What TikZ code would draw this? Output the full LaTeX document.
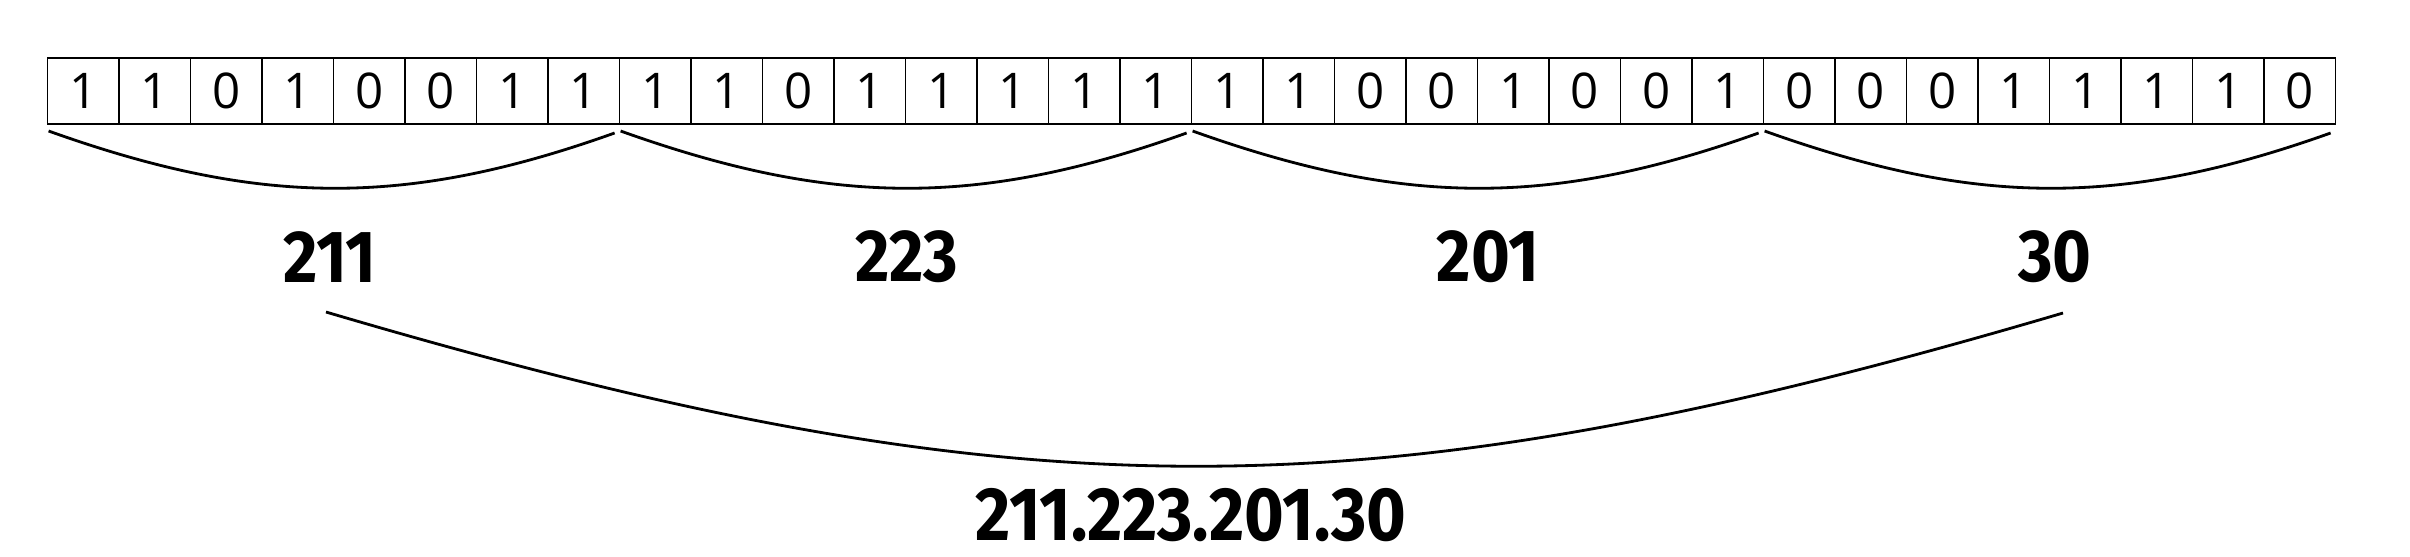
\documentclass[tikz,border=0pt]{standalone}
\usepackage{fontspec}
\setmainfont{Open Sans}
\newfontfamily\bytefont[Numbers=Proportional]{Fira Sans}

\tikzset{bit/.style={draw,line width=0.45pt,minimum width=7.15mm,minimum height=6.65mm,inner sep=0pt,font=\fontsize{14}{16}\selectfont},
byte label/.style={inner sep=0pt,font=\bytefont\bfseries\fontsize{21}{24}\selectfont},
ip label/.style={inner sep=0pt,font=\bytefont\bfseries\fontsize{21.5}{24}\selectfont},
brace/.style={line width=0.8pt},
big brace/.style={line width=0.8pt}}

\begin{document}
\begin{tikzpicture}[x=0.1mm,y=-0.1mm]
\useasboundingbox (0,0) rectangle (2410,556);

%% bit cells
\foreach \b [count=\i from 0] in {1,1,0,1,0,0,1,1,1,1,0,1,1,1,1,1,1,1,0,0,1,0,0,1,0,0,0,1,1,1,1,0}
  \node [bit] (c\i) at ({47.6+71.5*(\i+0.5)},91) {\b};

%% brace ends and byte values
\foreach \v/\x [count=\k from 0] in {211/330,223/907,201/1488,30/2055} {
  \coordinate (bs\k) at ({47.6+572*\k+1},131);
  \coordinate (be\k) at ({47.6+572*(\k+1)-5},133);
  \node [byte label] (v\k) at (\x,257) {\scalebox{0.9}[1]{\v}};
}

%% braces under the bytes
\foreach \k in {0,...,3}
  \draw [brace] (bs\k) .. controls +(210,75) and +(-210,75) .. (be\k);

%% whole address
\coordinate (ips) at (326,312);
\coordinate (ipe) at (2063,313);
\draw [big brace] (ips) .. controls +(695,205) and +(-695,205) .. (ipe);
\node [ip label] (ip) at (1191,515) {\scalebox{0.9}[1]{211.223.201.30}};

\end{tikzpicture}
\end{document}
